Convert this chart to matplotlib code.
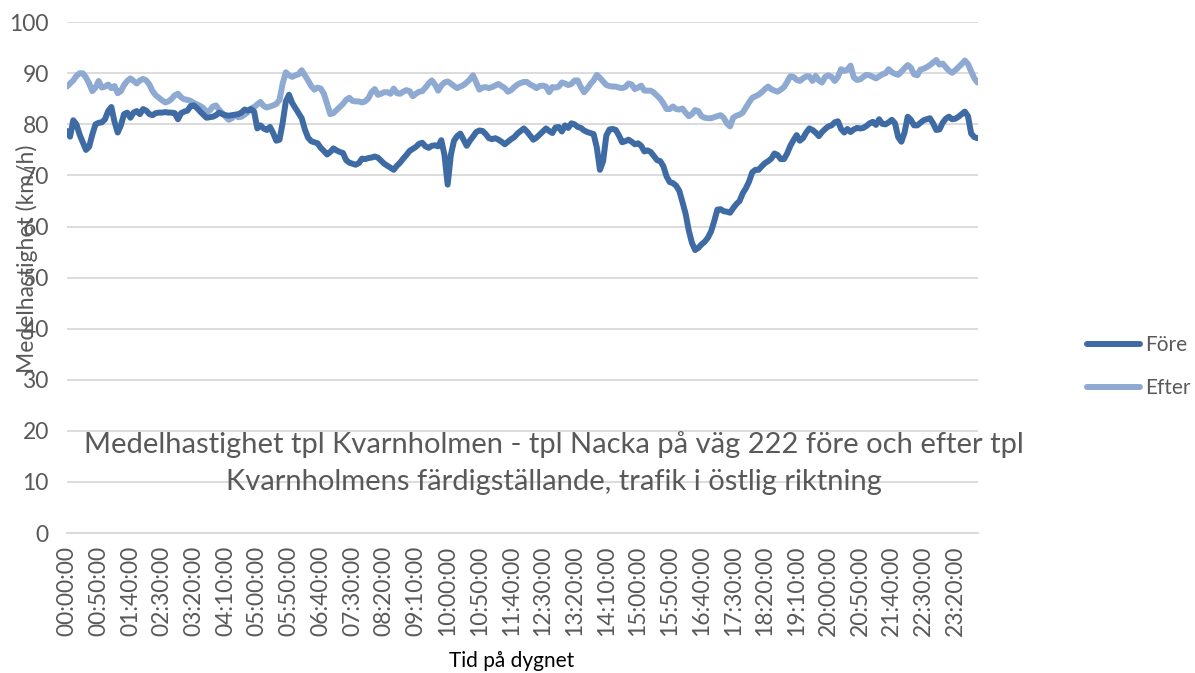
import matplotlib
matplotlib.use("Agg")
import matplotlib.pyplot as plt
import numpy as np

plt.rcParams['font.family'] = ['Lato', 'DejaVu Sans']

# ---- data (5-minute intervals, 00:00 - 23:55) ----
fore = [
    78.7, 77.6, 80.8, 80.0, 78.0, 76.5, 75.0, 75.6, 78.0, 80.0,
    80.3, 80.4, 81.0, 82.6, 83.4, 80.5, 78.4, 79.8, 82.0, 82.3,
    81.3, 82.3, 82.6, 82.0, 83.0, 82.7, 82.0, 81.8, 82.2, 82.3,
    82.3, 82.4, 82.3, 82.3, 82.2, 81.0, 82.2, 82.5, 82.7, 83.6,
    83.7, 83.2, 82.5, 81.9, 81.3, 81.4, 81.5, 81.8, 82.3, 82.0,
    81.8, 81.7, 81.8, 81.9, 82.0, 82.3, 82.9, 82.7, 83.0, 82.5,
    79.2, 79.8, 79.2, 78.9, 79.5, 78.3, 76.8, 77.0, 80.3, 84.5,
    85.8, 84.2, 83.2, 82.2, 81.2, 79.0, 77.4, 76.7, 76.5, 76.3,
    75.4, 74.8, 74.1, 74.6, 75.3, 74.9, 74.6, 74.4, 73.0, 72.5,
    72.3, 72.1, 72.4, 73.3, 73.2, 73.4, 73.5, 73.7, 73.5, 72.9,
    72.3, 71.9, 71.5, 71.1, 71.9, 72.5, 73.3, 74.0, 74.8, 75.2,
    75.6, 76.2, 76.4, 75.7, 75.4, 75.8, 75.9, 75.7, 76.9, 74.0,
    68.2, 74.0, 76.8, 77.7, 78.2, 77.0, 75.8, 76.8, 77.6, 78.5,
    78.8, 78.7, 78.1, 77.3, 77.1, 77.3, 77.0, 76.6, 76.1, 76.6,
    77.1, 77.5, 78.2, 78.7, 79.2, 78.6, 77.8, 77.0, 77.4, 78.0,
    78.6, 79.2, 78.7, 78.3, 79.4, 79.5, 78.6, 79.8, 79.3, 80.2,
    80.0, 79.5, 79.3, 78.8, 78.5, 78.3, 78.1, 75.5, 71.1, 72.8,
    77.8, 79.0, 79.1, 78.9, 77.8, 76.5, 76.7, 77.0, 76.6, 76.1,
    76.3, 75.8, 74.7, 74.9, 74.6, 73.8, 73.0, 72.8, 71.8, 69.8,
    68.7, 68.5, 68.0, 67.0, 64.8, 62.5, 59.2, 56.8, 55.4, 55.8,
    56.5, 57.0, 57.8, 59.0, 61.0, 63.3, 63.4, 63.0, 62.9, 62.7,
    63.6, 64.4, 65.0, 66.5, 67.5, 68.8, 70.6, 71.1, 71.1, 71.8,
    72.4, 72.8, 73.3, 74.3, 74.0, 73.2, 73.2, 74.3, 75.8, 76.9,
    77.9, 76.8, 77.3, 78.4, 79.2, 78.9, 78.4, 77.7, 78.5, 79.1,
    79.6, 79.8, 80.4, 80.6, 79.1, 78.4, 79.1, 78.5, 79.0, 79.3,
    79.2, 79.3, 79.7, 80.2, 80.5, 79.9, 81.0, 80.1, 80.0, 80.4,
    80.9, 80.2, 77.5, 76.6, 78.4, 81.5, 80.9, 79.8, 79.8, 80.3,
    80.8, 81.0, 81.2, 80.2, 78.9, 79.0, 80.3, 81.1, 81.5, 81.0,
    81.1, 81.5, 82.0, 82.5, 81.6, 78.2, 77.5, 77.3,
]

efter = [
    87.4, 88.0, 88.6, 89.5, 90.0, 90.0, 89.2, 88.0, 86.5, 87.2,
    88.5, 87.2, 87.4, 87.8, 87.1, 87.5, 86.1, 86.5, 87.7, 88.5,
    89.0, 88.5, 88.0, 88.6, 88.9, 88.6, 87.8, 86.5, 85.7, 85.2,
    84.7, 84.3, 84.5, 85.0, 85.7, 86.0, 85.3, 84.9, 84.8, 84.6,
    84.2, 83.9, 83.6, 83.2, 82.4, 82.7, 83.5, 83.7, 82.8, 82.2,
    81.5, 80.9, 81.2, 81.8, 81.4, 81.5, 81.9, 82.4, 83.1, 83.4,
    83.9, 84.4, 83.6, 83.3, 83.5, 83.7, 84.0, 84.8, 88.0, 90.2,
    89.6, 89.3, 89.6, 89.8, 90.6, 89.6, 88.6, 87.5, 86.8, 87.2,
    87.0, 86.0, 84.0, 82.0, 82.2, 82.8, 83.4, 84.0, 84.8, 85.2,
    84.6, 84.5, 84.5, 84.3, 84.5, 85.1, 86.3, 86.9, 85.8, 86.0,
    86.3, 86.3, 86.0, 87.0, 86.1, 86.0, 86.4, 86.7, 86.5, 85.5,
    86.0, 86.4, 86.5, 87.2, 88.0, 88.6, 87.8, 86.6, 87.6, 88.2,
    88.4, 88.0, 87.5, 87.1, 87.4, 87.7, 88.2, 88.8, 89.6, 88.2,
    86.8, 87.2, 87.3, 87.1, 87.3, 87.6, 87.9, 87.5, 87.1, 86.4,
    86.7, 87.3, 87.8, 88.1, 88.3, 88.3, 87.8, 87.5, 87.1, 87.5,
    87.6, 87.4, 86.3, 87.3, 87.2, 87.4, 88.2, 88.0, 87.7, 87.9,
    88.6, 88.6, 87.3, 86.3, 87.0, 87.9, 88.6, 89.7, 89.1, 88.4,
    87.7, 87.5, 87.4, 87.4, 87.2, 87.1, 87.3, 88.0, 87.8, 86.9,
    87.2, 87.6, 86.6, 86.6, 86.6, 86.2, 85.6, 85.0, 84.1, 83.0,
    83.0, 83.5, 83.0, 82.9, 83.1, 82.3, 81.6, 82.0, 82.8, 82.6,
    81.6, 81.3, 81.2, 81.2, 81.4, 81.6, 81.8, 81.3, 80.2, 79.6,
    81.3, 81.7, 81.9, 82.3, 83.3, 84.3, 85.2, 85.5, 85.8, 86.3,
    86.9, 87.4, 86.9, 86.6, 86.4, 86.8, 87.3, 88.3, 89.4, 89.3,
    88.7, 88.5, 89.0, 89.4, 89.4, 88.5, 89.5, 88.6, 88.2, 89.3,
    89.6, 89.3, 88.5, 89.3, 90.8, 90.5, 90.7, 91.5, 89.2, 88.7,
    88.8, 89.3, 89.7, 89.6, 89.3, 89.0, 89.4, 89.8, 90.0, 90.8,
    90.2, 89.9, 89.7, 90.3, 91.0, 91.6, 91.1, 89.8, 89.6, 90.7,
    90.9, 91.2, 91.6, 92.1, 92.6, 91.7, 91.9, 91.2, 90.5, 90.1,
    90.6, 91.2, 91.8, 92.5, 91.8, 90.4, 89.0, 88.2,
]

times = [f"{(5 * k) // 60:02d}:{(5 * k) % 60:02d}:00" for k in range(len(fore))]
tick_step = 10
series_names = ["Före", "Efter"]
title_text = ("Medelhastighet tpl Kvarnholmen - tpl Nacka på väg 222 före och efter tpl\n"
              "Kvarnholmens färdigställande, trafik i östlig riktning")
x_label = "Tid på dygnet"
y_label = "Medelhastighet (km/h)"

TEXT = "#595959"
GRID = "#d9d9d9"
C_FORE = "#3f6ba5"
C_EFTER = "#8eaad2"

fig = plt.figure(figsize=(11.95, 6.73), dpi=100)
ax = fig.add_axes([0.056, 0.208, 0.762, 0.759])

x = np.arange(len(fore))
ax.plot(x, fore, color=C_FORE, lw=4.3, solid_capstyle='round', solid_joinstyle='round', label=series_names[0], zorder=3)
ax.plot(x, efter, color=C_EFTER, lw=4.3, solid_capstyle='round', solid_joinstyle='round', label=series_names[1], zorder=2)

ax.set_xlim(0, len(fore) - 1)
ax.set_ylim(0, 100)
ax.set_yticks(np.arange(0, 101, 10))
ax.set_xticks(x[::tick_step])
ax.set_xticklabels(times[::tick_step], rotation=90)
ax.yaxis.grid(True, color=GRID, lw=1.3)
ax.set_axisbelow(True)
for s in ['top', 'right', 'left']:
    ax.spines[s].set_visible(False)
ax.spines['bottom'].set_color(GRID)
ax.spines['bottom'].set_linewidth(1.3)
ax.tick_params(axis='both', length=0, colors=TEXT, labelsize=16.5)
ax.tick_params(axis='y', pad=13)
ax.tick_params(axis='x', pad=9)

fig.text(0.0225, 0.615, y_label, rotation=90, ha='center', va='center', color=TEXT, fontsize=16.5)
fig.text(0.428, 0.018, x_label, ha='center', va='center', color='black', fontsize=15)
fig.text(0.4636, 0.312, title_text, ha='center', va='center', color=TEXT,
         fontsize=21, linespacing=1.5)

leg = ax.legend(loc='center left', bbox_to_anchor=(0.910, 0.455), bbox_transform=fig.transFigure,
                frameon=False, fontsize=15, handlelength=2.5, handletextpad=0.25,
                labelspacing=1.1, borderpad=0, borderaxespad=0)
for t in leg.get_texts():
    t.set_color(TEXT)

fig.savefig("out.png", dpi=100)
